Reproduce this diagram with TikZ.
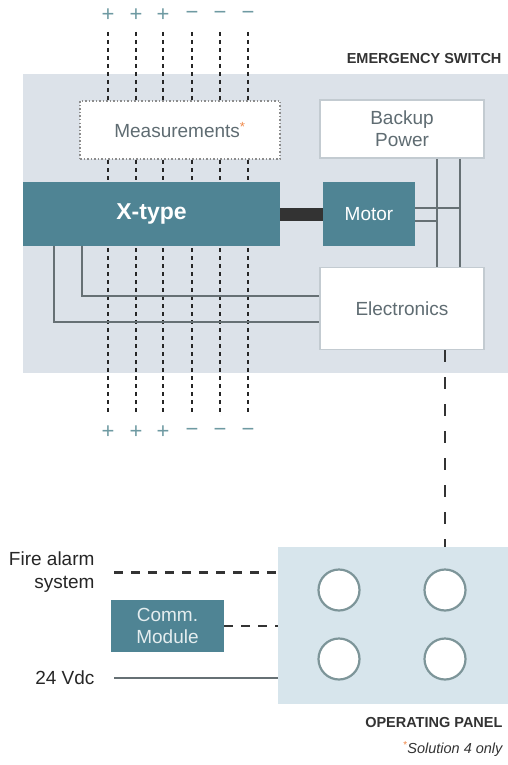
\documentclass[tikz,border=0pt]{standalone}
\usepackage{fontspec}
\setmainfont{Liberation Sans}
\usepackage{xcolor}
\usepackage{tikz}
\usetikzlibrary{calc,positioning}
\definecolor{tealc}{HTML}{4F8494}
\definecolor{swbg}{HTML}{DCE2E9}
\definecolor{panbg}{HTML}{D7E5EC}
\definecolor{wirec}{HTML}{667074}
\definecolor{edgec}{HTML}{C3CBD1}
\definecolor{txtc}{HTML}{5F6C72}
\definecolor{pmc}{HTML}{6E9AA2}
\definecolor{ringc}{HTML}{7D9599}
\definecolor{astc}{HTML}{F08A4B}
\tikzset{
  wbox/.style={draw=edgec,line width=1.5pt,fill=white,align=center,text=txtc,font=\fontsize{19}{22}\selectfont},
  tbox/.style={fill=tealc,align=center,text=white,font=\fontsize{19}{22}\selectfont},
  wire/.style={wirec,line width=2.8pt},
  sig/.style={black!85,line width=1.7pt,dash pattern=on 4pt off 4pt},
  ctl/.style={black!80,line width=2.6pt,dash pattern=on 9pt off 8pt},
  pm/.style={text=pmc,inner sep=0pt,font=\fontsize{22}{22}\selectfont},
  ttl/.style={anchor=east,text=black!80,font=\bfseries\fontsize{14.5}{16}\selectfont}
}
\begin{document}
\begin{tikzpicture}[x=1pt,y=-1pt]
\useasboundingbox (0,0) rectangle (508,765);
% emergency switch
\node[fill=swbg,minimum width=485pt,minimum height=299pt,inner sep=0pt] (sw) at (265.5,223.5) {};
\node[ttl] (swl) at (505,59) {EMERGENCY SWITCH};
% poles
\foreach \i/\x/\s in {1/108/+,2/136/+,3/163/+,4/192/−,5/220/−,6/248/−}{
 \node[pm] (t\i) at (\x,15) {\s};
 \node[pm] (b\i) at (\x,432) {\s};
 \draw[sig] ([yshift=-17pt]t\i.center) -- ([yshift=19pt]b\i.center);}
% blocks
\node[wbox,draw=black!45,dash pattern=on 1.5pt off 2pt,minimum width=200pt,minimum height=58pt] (meas) at (180,130) {Measurements\textsuperscript{\textcolor{astc}{*}}};
\node[wbox,minimum width=164pt,minimum height=58pt] (bkp) at (402,129) {Backup\\Power};
\node[tbox,font=\bfseries\fontsize{23}{26}\selectfont,minimum width=257pt,minimum height=64pt] (xt) at (151.5,214) {X-type};
\node[tbox,minimum width=92pt,minimum height=64pt] (mot) at (369,214) {Motor};
\node[wbox,minimum width=164pt,minimum height=82pt] (elc) at (402,308.5) {Electronics};
\draw[black!80,line width=13pt] (xt.east) -- (mot.west);
% wiring
\coordinate (ba) at ([xshift=35pt]bkp.south);
\coordinate (bb) at ([xshift=58pt]bkp.south);
\draw[wire] (ba) -- (ba |- elc.north);
\draw[wire] (bb) -- (bb |- elc.north);
\draw[wire] ([yshift=6pt]mot.east) -- ([yshift=6pt]mot.east -| bb);
\draw[wire] ([yshift=-7pt]mot.east) -- ([yshift=-7pt]mot.east -| ba);
\draw[wire] ([xshift=-69.5pt]xt.south) |- ([yshift=12.5pt]elc.west);
\draw[wire] ([xshift=-97.5pt]xt.south) |- ([yshift=-13.5pt]elc.west);
% operating panel
\node[fill=panbg,minimum width=230pt,minimum height=157pt,inner sep=0pt] (pan) at (393,625.5) {};
\foreach \n/\x/\y in {1/339/590,2/445/590,3/339/659,4/445/659}
 \node[circle,draw=ringc,line width=2.2pt,fill=white,minimum size=41pt,inner sep=0pt] (c\n) at (\x,\y) {};
\node[ttl] (panl) at (506,722) {OPERATING PANEL};
\draw[ctl,dash pattern=on 12pt off 15pt] ([xshift=43pt]elc.south) -- ([xshift=43pt]elc.south |- pan.north);
% inputs
\node[anchor=east,align=right,text=black!85,font=\fontsize{19}{23}\selectfont] (fire) at (98,572.5) {Fire alarm\\system};
\node[tbox,text=white!85!tealc,minimum width=113pt,minimum height=52pt,font=\fontsize{19}{22}\selectfont] (com) at (167.5,626) {Comm.\\Module};
\node[anchor=east,text=black!85,font=\fontsize{19}{21}\selectfont] (vdc) at (98,678) {24 Vdc};
\draw[ctl] ([xshift=16pt]fire.east) -- (fire.east -| pan.west);
\draw[ctl] (com.east) -- (com.east -| pan.west);
\draw[wirec,line width=2pt] ([xshift=16pt]vdc.east) -- (vdc.east -| pan.west);
\node[anchor=east,text=black!80,font=\itshape\fontsize{14.5}{16}\selectfont] (note) at (506,749) {\textsuperscript{\textcolor{astc}{*}}Solution 4 only};
\end{tikzpicture}
\end{document}
